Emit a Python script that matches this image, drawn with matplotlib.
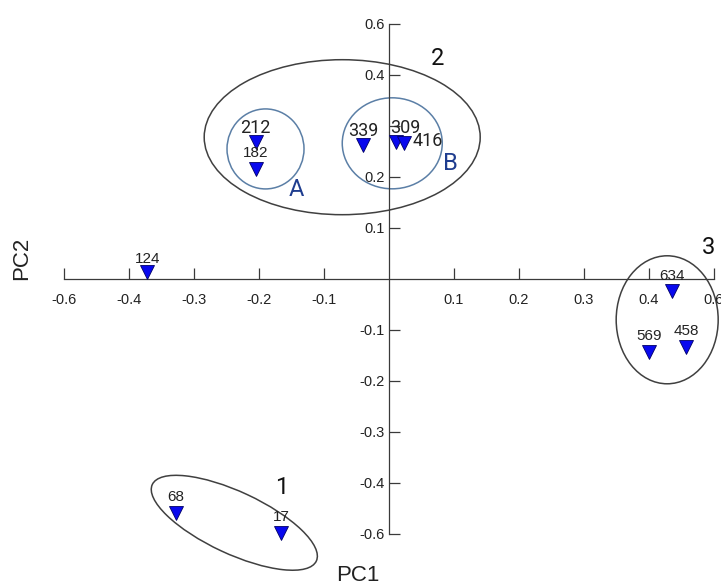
import matplotlib.pyplot as plt
import matplotlib.transforms as mtransforms
from matplotlib.patches import Ellipse

plt.rcParams['font.family'] = ['Liberation Sans', 'DejaVu Sans']

# sample scores
samples = ['124', '212', '182', '339', '309', '416', '634', '569', '458', '68', '17']
pc1 = [-0.372, -0.205, -0.205, -0.040, 0.011, 0.023, 0.435, 0.400, 0.457, -0.328, -0.166]
pc2 = [0.014, 0.269, 0.216, 0.263, 0.269, 0.267, -0.024, -0.143, -0.133, -0.459, -0.498]

# axis ticks as printed on the original
tick_pos = [-0.5, -0.4, -0.3, -0.2, -0.1, 0.1, 0.2, 0.3, 0.4, 0.5]
x_tick_labels = ['-0.6', '-0.4', '-0.3', '-0.2', '-0.1', '0.1', '0.2', '0.3', '0.4', '0.6']
y_tick_labels = ['-0.6', '-0.4', '-0.3', '-0.2', '-0.1', '0.1', '0.2', '', '0.4', '0.6']

# group annotations
groups = ['1', '2', '3', 'A', 'B']
group_x = [-0.165, 0.074, 0.491, -0.142, 0.095]
group_y = [-0.408, 0.433, 0.061, 0.175, 0.227]

# label placement (points) and which labels use the larger font
label_offsets = {'124': (0, 9.5), '212': (-0.5, 10), '182': (0, 11.5), '339': (0, 10),
                 '309': (6.5, 10), '416': (17, 1.5), '634': (0, 11), '569': (0, 11.5),
                 '458': (0, 11.5), '68': (0, 11.5), '17': (0, 11.5)}
big_labels = ['212', '339', '309', '416']

# outlines: centre (data), width/height in pixels, angle, colour
outlines = [
    ((-0.072, 0.278), 276, 155, 0, '#404040'),
    ((-0.190, 0.255), 77, 80, 0, '#5b7fa6'),
    ((0.005, 0.266), 100, 91, 0, '#5b7fa6'),
    ((0.428, -0.080), 102, 128, 0, '#404040'),
    ((-0.238, -0.478), 181, 62, -25, '#404040'),
]

W, H = 721, 585
fig = plt.figure(figsize=(W / 100, H / 100), dpi=100)
ax = fig.add_axes([0, 0, 1, 1])
xlim = (-0.5985, 0.5108)
ylim = (-0.6, 0.547)
ax.set_xlim(*xlim)
ax.set_ylim(*ylim)
sx = W / (xlim[1] - xlim[0])
sy = H / (ylim[1] - ylim[0])

axis_col = '#3a3a3a'
for s in ['top', 'right']:
    ax.spines[s].set_visible(False)
for s in ['left', 'bottom']:
    ax.spines[s].set_position(('data', 0))
    ax.spines[s].set_bounds(-0.5, 0.5)
    ax.spines[s].set_color(axis_col)
    ax.spines[s].set_linewidth(0.9)

ax.set_xticks(tick_pos)
ax.set_xticklabels(x_tick_labels)
ax.set_yticks(tick_pos)
ax.set_yticklabels(y_tick_labels)
ax.tick_params(direction='in', length=8, width=0.9, color=axis_col,
               labelsize=10.5, labelcolor='#222222')
ax.tick_params(axis='x', pad=10)
ax.tick_params(axis='y', pad=3)

for (cx, cy), w, h, ang, col in outlines:
    tr = mtransforms.Affine2D().scale(1 / sx, 1 / sy).translate(cx, cy) + ax.transData
    ax.add_patch(Ellipse((0, 0), w, h, angle=ang, fill=False, edgecolor=col,
                         linewidth=1.1, transform=tr))

ax.plot(pc1, pc2, 'v', ms=10.5, color='#0808ee', markeredgecolor='#000066',
        markeredgewidth=0.6, zorder=5)

for name, x, y in zip(samples, pc1, pc2):
    if name in big_labels:
        fam, fs = ['Roboto', 'DejaVu Sans'], 13
    else:
        fam, fs = ['Liberation Sans', 'DejaVu Sans'], 11
    ax.annotate(name, (x, y), xytext=label_offsets[name], textcoords='offset points',
                ha='center', va='center', fontsize=fs, family=fam, color='#222222',
                zorder=6)

for g, x, y in zip(groups, group_x, group_y):
    col = '#1f3d8f' if g in ['A', 'B'] else '#111111'
    ax.text(x, y, g, ha='center', va='center', fontsize=17,
            family=['Roboto', 'DejaVu Sans'], color=col)

fig.text(0.4965, 0.0154, 'PC1', ha='center', va='center', fontsize=16, color='#222222')
fig.text(0.03, 0.559, 'PC2', ha='center', va='center', fontsize=16, rotation=90,
         color='#222222')

fig.savefig('out.png', dpi=100)
